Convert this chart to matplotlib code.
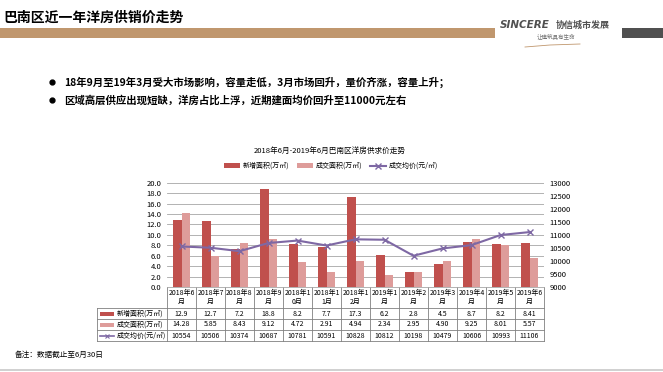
import numpy as np
import matplotlib.pyplot as plt
import matplotlib.transforms as mtransforms
from matplotlib.patches import Rectangle

plt.rcParams['font.family'] = ['Noto Sans CJK SC', 'DejaVu Sans']

# data
months = ['2018年6\n月', '2018年7\n月', '2018年8\n月', '2018年9\n月', '2018年1\n0月',
          '2018年1\n1月', '2018年1\n2月', '2019年1\n月', '2019年2\n月', '2019年3\n月',
          '2019年4\n月', '2019年5\n月', '2019年6\n月']
new_area = [12.9, 12.7, 7.2, 18.8, 8.2, 7.7, 17.3, 6.2, 2.8, 4.5, 8.7, 8.2, 8.41]
sold_area = [14.28, 5.85, 8.43, 9.12, 4.72, 2.91, 4.94, 2.34, 2.95, 4.90, 9.25, 8.01, 5.57]
avg_price = [10554, 10506, 10374, 10687, 10781, 10591, 10828, 10812, 10198, 10479, 10606, 10993, 11106]
new_txt = ['12.9', '12.7', '7.2', '18.8', '8.2', '7.7', '17.3', '6.2', '2.8', '4.5', '8.7', '8.2', '8.41']
sold_txt = ['14.28', '5.85', '8.43', '9.12', '4.72', '2.91', '4.94', '2.34', '2.95', '4.90', '9.25', '8.01', '5.57']
series_names = ['新增面积(万㎡)', '成交面积(万㎡)', '成交均价(元/㎡)']

c_new = '#C0504D'
c_sold = '#DE9C9A'
c_line = '#7E68A4'
W, H = 663, 372

fig = plt.figure(figsize=(W / 100, H / 100), dpi=100)

# overlay in pixel coords (y down)
bg = fig.add_axes([0, 0, 1, 1], zorder=-1)
bg.set_xlim(0, W)
bg.set_ylim(H, 0)
bg.axis('off')

def px_axes(x0, y0, x1, y1):
    return [x0 / W, 1 - y1 / H, (x1 - x0) / W, (y1 - y0) / H]

# header
bg.text(3, 18, '巴南区近一年洋房供销价走势', fontsize=10, fontweight='bold', va='center', ha='left')
bg.add_patch(Rectangle((0, 28), 495, 10, color='#C0976E', lw=0))
bg.add_patch(Rectangle((622, 28), 41, 10, color='#505050', lw=0))
bg.text(500, 25, 'SINCERE', fontsize=7.5, fontstyle='italic', fontweight='bold', color='#505050',
        va='center', ha='left', family=['DejaVu Sans'])
bg.text(556, 25, '协信城市发展', fontsize=6.5, fontweight='bold', color='#505050', va='center', ha='left')
bg.text(556, 37, '让建筑具有生命', fontsize=4, color='#707070', va='center', ha='center')
bg.plot([525, 550, 580], [47, 45, 44], color='#C0976E', lw=0.6)

# bullets
bullets = ['18年9月至19年3月受大市场影响，容量走低，3月市场回升，量价齐涨，容量上升；',
           '区域高层供应出现短缺，洋房占比上浮，近期建面均价回升至11000元左右']
for yy, t in zip([82, 100], bullets):
    bg.plot(52, yy, 'o', color='black', ms=3.5)
    bg.text(64, yy, t, fontsize=7.5, fontweight='bold', va='center', ha='left')

# chart
ax = fig.add_axes(px_axes(167, 182.7, 544, 287))
ax2 = ax.twinx()
x = np.arange(len(months))
bw = 0.28
b1 = ax.bar(x - bw / 2, new_area, bw, color=c_new, zorder=3)
b2 = ax.bar(x + bw / 2, sold_area, bw, color=c_sold, zorder=3)
l1, = ax2.plot(x, avg_price, color=c_line, lw=1.5, marker='x', ms=4, mew=1)
ax.set_xlim(-0.5, len(months) - 0.5)
ax.set_ylim(0, 20)
ax.set_yticks(np.arange(0, 20.1, 2))
ax.set_yticklabels(['%.1f' % v for v in np.arange(0, 20.1, 2)])
ax2.set_ylim(9000, 13000)
ax2.set_yticks(np.arange(9000, 13001, 500))
ax.grid(axis='y', color='#A6A6A6', lw=0.6, zorder=0)
ax.set_xticks([])
for a in (ax, ax2):
    for s in a.spines.values():
        s.set_visible(False)
    a.tick_params(length=0, labelsize=5.5, pad=4)
ax.spines['bottom'].set_visible(True)
ax.spines['bottom'].set_color('#A6A6A6')
ax.spines['bottom'].set_linewidth(0.6)

bg.text(330, 151, '2018年6月-2019年6月巴南区洋房供求价走势', fontsize=5.5, ha='center', va='center')
fig.legend([b1, b2, l1], series_names, ncol=3, loc='center', bbox_to_anchor=(331 / W, 1 - 166 / H),
           frameon=False, fontsize=5, handlelength=2.2, handleheight=0.6, columnspacing=1.2, handletextpad=0.4)

# data table
tr = mtransforms.blended_transform_factory(ax.transData, bg.transData)
rows_y = [287, 308, 319, 330, 341]
tc = '#808080'
for i in range(len(months) + 1):
    bg.plot([i - 0.5, i - 0.5], [287, 341], color=tc, lw=0.6, transform=tr)
for yy in rows_y[1:]:
    bg.plot([97, 544], [yy, yy], color=tc, lw=0.6)
bg.plot([97, 97], [308, 341], color=tc, lw=0.6)
for i, m in enumerate(months):
    bg.text(i, 297.5, m, fontsize=5, ha='center', va='center', transform=tr, linespacing=1.2)
    bg.text(i, 313.5, new_txt[i], fontsize=5, ha='center', va='center', transform=tr)
    bg.text(i, 324.5, sold_txt[i], fontsize=5, ha='center', va='center', transform=tr)
    bg.text(i, 335.5, str(avg_price[i]), fontsize=5, ha='center', va='center', transform=tr)
bg.add_patch(Rectangle((100, 311.5), 14, 4, color=c_new, lw=0))
bg.add_patch(Rectangle((100, 322.5), 14, 4, color=c_sold, lw=0))
bg.plot([100, 114], [335.5, 335.5], color=c_line, lw=1.2)
bg.plot(107, 335.5, marker='x', color=c_line, ms=3, mew=0.8)
for yy, t in zip([313.5, 324.5, 335.5], series_names):
    bg.text(117, yy, t, fontsize=5, ha='left', va='center')

# footnote
bg.text(15, 355, '备注：数据截止至6月30日', fontsize=5.5, ha='left', va='center')
bg.plot([0, W], [370, 370], color='#C8C8C8', lw=1.2)

fig.savefig('out.png', dpi=100)
